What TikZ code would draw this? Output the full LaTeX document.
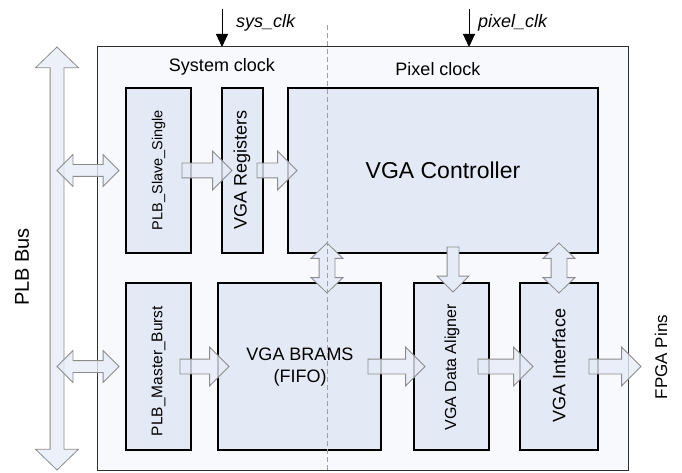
\documentclass[tikz,border=0pt]{standalone}
\usepackage{fontspec}
\setmainfont{Liberation Sans}
\usetikzlibrary{shapes.arrows,arrows.meta,calc}
\definecolor{blockfill}{HTML}{E4EAF5}
\definecolor{outerfill}{HTML}{F8F9FC}
\definecolor{arrowfill}{HTML}{E6ECF7}
\definecolor{arrowline}{HTML}{8C8C8C}
\definecolor{dashgray}{HTML}{A0A0A0}
\definecolor{outerline}{HTML}{303030}
\tikzset{
  blk/.style={draw=black, line width=2pt, fill=blockfill, inner sep=0pt, outer sep=0pt},
  outerbox/.style={draw=outerline, line width=1pt, fill=outerfill, inner sep=0pt, outer sep=0pt},
  fat/.style={draw=arrowline, fill=arrowfill, fill opacity=0.8, draw opacity=1, line width=0.8pt, inner sep=0pt, outer sep=0pt},
  fatR/.style={fat, single arrow, single arrow tip angle=90, single arrow head indent=0pt,
    inner xsep=0pt, inner ysep=7pt, single arrow head extend=12pt, anchor=tail},
  fatBus/.style={fat, double arrow, double arrow tip angle=90, double arrow head indent=0pt,
    inner xsep=0pt, inner ysep=5.5pt, double arrow head extend=10pt},
  fatV/.style={fat, fill opacity=1, double arrow, double arrow tip angle=92, double arrow head indent=0pt,
    inner xsep=0pt, inner ysep=7.5pt, double arrow head extend=8pt, rotate=90},
  fatD/.style={fat, fill opacity=1, single arrow, single arrow tip angle=90, single arrow head indent=0pt,
    inner xsep=0pt, inner ysep=5.5pt, single arrow head extend=10pt, rotate=-90, anchor=tail},
  fatBig/.style={fat, double arrow, double arrow tip angle=92, double arrow head indent=0pt,
    inner xsep=0pt, inner ysep=6.5pt, double arrow head extend=14.5pt, rotate=90},
  lbl/.style={inner sep=0pt, outer sep=0pt},
  clk/.style={-{Triangle[length=13pt,width=12pt]}, line width=1pt, black},
}
\begin{document}
\begin{tikzpicture}[x=1pt,y=-1pt]
\useasboundingbox (0,0) rectangle (682,473);

% outer box
\node[outerbox, minimum width=531pt, minimum height=423pt] (outer) at (362.5,258.5) {};

% blocks
\node[blk, minimum width=65pt, minimum height=165pt] (slave) at (158.5,170.5) {};
\node[blk, minimum width=41pt, minimum height=165pt] (regs) at (242.5,170.5) {};
\node[blk, minimum width=310pt, minimum height=165pt] (ctrl) at (443,170.5) {};
\node[blk, minimum width=65pt, minimum height=167pt] (master) at (158.5,366.5) {};
\node[blk, minimum width=163pt, minimum height=167pt] (brams) at (299.5,366.5) {};
\node[blk, minimum width=75pt, minimum height=167pt] (align) at (451.5,366.5) {};
\node[blk, minimum width=78pt, minimum height=167pt] (iface) at (559,366.5) {};

% block texts
\node[lbl, font=\fontsize{14.5}{16}\selectfont] (tslave) at (158.5,170) {\rotatebox{90}{PLB\_Slave\_Single}};
\node[lbl, font=\fontsize{18}{20}\selectfont] (tregs) at (242,170) {\rotatebox{90}{VGA Registers}};
\node[lbl, font=\fontsize{23}{26}\selectfont] (tctrl) at (443,170) {VGA Controller};
\node[lbl, font=\fontsize{15.5}{17}\selectfont] (tmaster) at (158.5,371) {\rotatebox{90}{PLB\_Master\_Burst}};
\node[lbl, font=\fontsize{18}{22}\selectfont, align=center] (tbrams) at (300,367) {VGA BRAMS\\(FIFO)};
\node[lbl, font=\fontsize{16}{18}\selectfont] (talign) at (452,367.5) {\rotatebox{90}{VGA Data Aligner}};
\node[lbl, font=\fontsize{18}{20}\selectfont] (tiface) at (559,365.5) {\rotatebox{90}{VGA Interface}};

% clock region labels
\node[lbl, font=\fontsize{18}{20}\selectfont] (sysreg) at (222,67) {System clock};
\node[lbl, font=\fontsize{18}{20}\selectfont] (pixreg) at (438,69) {Pixel clock};

% clock inputs
\coordinate (sysin) at (222,9);
\coordinate (pixin) at (469,9);
\draw[clk] (sysin) -- (sysin |- outer.north);
\draw[clk] (pixin) -- (pixin |- outer.north);
\node[lbl, anchor=west, font=\fontsize{18}{20}\selectfont\itshape] (sysclk) at (236,23) {sys\_clk};
\node[lbl, anchor=west, font=\fontsize{18}{20}\selectfont\itshape] (pixclk) at (478,23) {pixel\_clk};

% PLB bus
\node[fatBig, minimum height=423pt] (bus) at (57,258.5) {};
\node[lbl, font=\fontsize{20}{22}\selectfont] (buslbl) at (22,267) {\rotatebox{90}{PLB Bus}};

% bus connections
\node[fatBus, minimum height=62pt] (b2s) at ($(bus.center |- slave.center)+(31,0)$) {};
\node[fatBus, minimum height=62pt] (b2m) at ($(bus.center |- master.center)+(31,0)$) {};

% forward arrows
\node[fatR, minimum height=50pt] (s2r) at ($(slave.east)+(-9,0)$) {};
\node[fatR, minimum height=40pt] (r2c) at ($(regs.east)+(-6,0)$) {};
\node[fatR, minimum height=49pt] (m2b) at ($(master.east)+(-11,0)$) {};
\node[fatR, minimum height=57pt] (b2a) at ($(brams.east)+(-13,0)$) {};
\node[fatR, minimum height=55pt] (a2i) at ($(align.east)+(-11,0)$) {};
\node[fatR, minimum height=52pt] (i2p) at ($(iface.east)+(-9,0)$) {};

% dashed clock boundary (coordinate used for vertical arrow too)
\coordinate (dtop) at (327,25);

% vertical arrows
\node[fatV, minimum height=50pt] (c2b) at ($(dtop |- ctrl.south)!0.5!(dtop |- brams.north)$) {};
\node[fatD, minimum height=45pt] (c2a) at ($(ctrl.south -| align.north)+(1.5,-6)$) {};
\node[fatV, minimum height=50pt] (c2i) at ($(ctrl.south -| iface.north)!0.5!(iface.north)$) {};

\draw[dashgray, dashed, line width=0.9pt, dash pattern=on 5pt off 3pt] (dtop) -- (dtop |- outer.south);

% FPGA pins
\node[lbl, font=\fontsize{17}{19}\selectfont] (pins) at (661,357) {\rotatebox{90}{FPGA Pins}};
\end{tikzpicture}
\end{document}
